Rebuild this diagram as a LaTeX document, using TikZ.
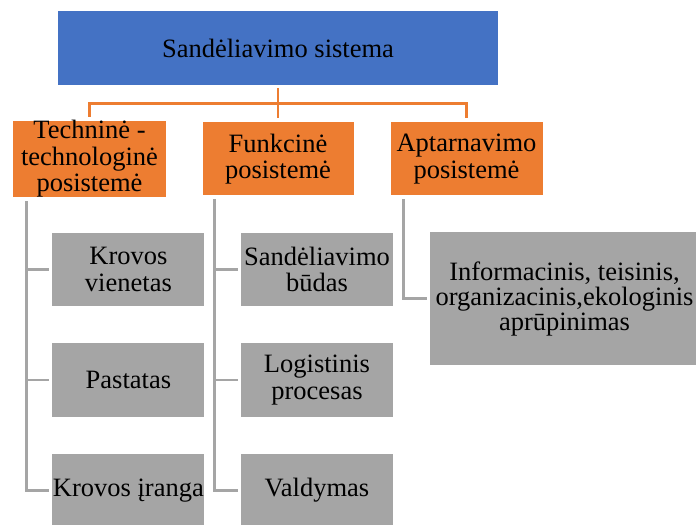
\documentclass[tikz,border=0pt]{standalone}
\usepackage{fontspec}
\setmainfont{Liberation Serif}
\definecolor{boxblue}{HTML}{4472C4}
\definecolor{boxorange}{HTML}{ED7D31}
\definecolor{boxgray}{HTML}{A5A5A5}
\begin{document}
\begin{tikzpicture}[x=1bp,y=-1bp,
  box/.style={draw=white,line width=1bp,inner sep=0pt,align=center,
    font=\fontsize{26.5bp}{26.5bp}\selectfont,text=black},
  topbox/.style={box,fill=boxblue,minimum width=440bp,minimum height=75bp},
  subbox/.style={box,fill=boxorange,minimum width=153bp,minimum height=74bp},
  leafbox/.style={box,fill=boxgray,minimum width=153bp,minimum height=74.5bp},
  orangeline/.style={draw=boxorange,line width=2.5bp,shorten <=2bp,shorten >=3bp},
  grayline/.style={draw=boxgray,line width=2.5bp,shorten <=3bp,shorten >=2bp}]
\useasboundingbox (0,0) rectangle (696,525);

% connectors first, so the boxes sit on top of them
\coordinate (toppos) at (278,48.5);
\coordinate (t1pos) at (89.5,159);
\coordinate (t2pos) at (278,159);
\coordinate (t3pos) at (466.5,159);

% top level
\node[topbox] (top) at (toppos) {Sandėliavimo sistema};

% second level
\node[subbox] (t1) at (t1pos) {Techninė -\\technologinė\\posistemė};
\node[subbox,minimum width=152bp] (t2) at (t2pos) {Funkcinė\\posistemė};
\node[subbox] (t3) at (t3pos) {Aptarnavimo\\posistemė};

% third level
\node[leafbox] (a1) at (128.4,269.5) {Krovos\\vienetas};
\node[leafbox] (a2) at (128.4,380) {Pastatas};
\node[leafbox] (a3) at (128.4,490.5) {Krovos įranga};
\node[leafbox] (b1) at (317,269.5) {Sandėliavimo\\būdas};
\node[leafbox] (b2) at (317,380) {Logistinis\\procesas};
\node[leafbox] (b3) at (317,490.5) {Valdymas};
\node[leafbox,minimum width=271bp,minimum height=133bp,
  font=\fontsize{26.5bp}{25bp}\selectfont] (c1) at (564.5,298.5)
  {Informacinis, teisinis,\\organizacinis,ekologinis\\aprūpinimas};

% top to second level
\draw[orangeline] (top.south) -- (t2.north);
\draw[orangeline] (top.south) -- ++(0,17) -| (t1.north);
\draw[orangeline] (top.south) -- ++(0,17) -| (t3.north);

% second to third level
\draw[grayline] (t1.south west) ++(14,0) |- (a1.west);
\draw[grayline] (t1.south west) ++(14,0) |- (a2.west);
\draw[grayline] (t1.south west) ++(14,0) |- (a3.west);
\draw[grayline] (t2.south west) ++(13,0) |- (b1.west);
\draw[grayline] (t2.south west) ++(13,0) |- (b2.west);
\draw[grayline] (t2.south west) ++(13,0) |- (b3.west);
\draw[grayline] (t3.south west) ++(14,0) |- (c1.west);
\end{tikzpicture}
\end{document}
